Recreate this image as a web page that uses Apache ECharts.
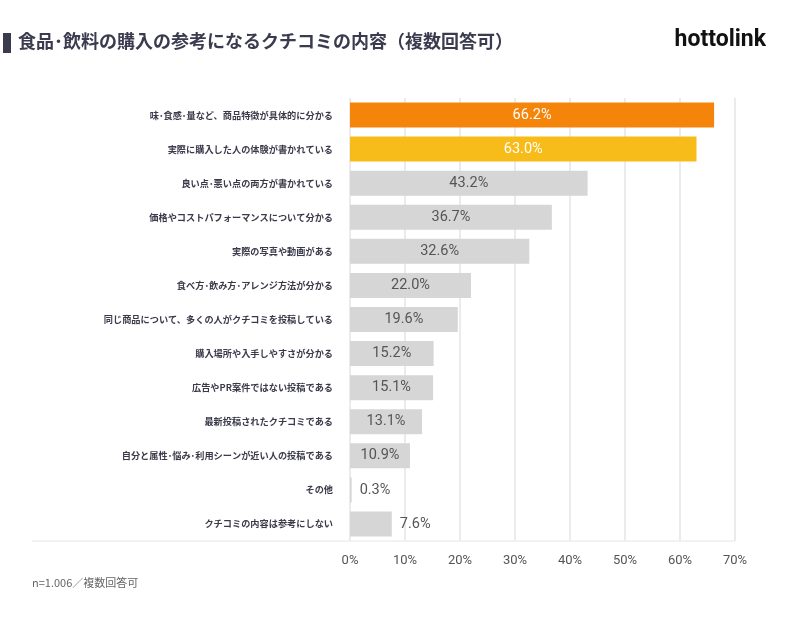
<!DOCTYPE html>
<html>
<head>
<meta charset="utf-8">
<title>食品･飲料の購入の参考になるクチコミの内容</title>
<script src="https://cdn.jsdelivr.net/npm/echarts@6/dist/echarts.min.js"></script>
<style>
  html, body { margin: 0; padding: 0; background: #fff; }
  #chart { width: 800px; height: 620px; }
</style>
</head>
<body>
<div id="chart"></div>
<script>
var categories = [
    "味･食感･量など、商品特徴が具体的に分かる",
    "実際に購入した人の体験が書かれている",
    "良い点･悪い点の両方が書かれている",
    "価格やコストパフォーマンスについて分かる",
    "実際の写真や動画がある",
    "食べ方･飲み方･アレンジ方法が分かる",
    "同じ商品について、多くの人がクチコミを投稿している",
    "購入場所や入手しやすさが分かる",
    "広告やPR案件ではない投稿である",
    "最新投稿されたクチコミである",
    "自分と属性･悩み･利用シーンが近い人の投稿である",
    "その他",
    "クチコミの内容は参考にしない"
];
var values = [66.2, 63.0, 43.2, 36.7, 32.6, 22.0, 19.6, 15.2, 15.1, 13.1, 10.9, 0.3, 7.6];
var xTicks = [0, 10, 20, 30, 40, 50, 60, 70];

var jp = '"Noto Sans CJK JP", "Noto Sans", sans-serif';
var num = 'Roboto, "DejaVu Sans", sans-serif';

var barData = values.map(function(v, i) {
    var color = "#d6d6d6";
    var labelColor = "#555555";
    if (i === 0) { color = "#f5850a"; labelColor = "#ffffff"; }
    if (i === 1) { color = "#f8bc1a"; labelColor = "#ffffff"; }
    var outside = v < 10;
    return {
        value: v,
        itemStyle: { color: color },
        label: {
            position: outside ? "right" : "inside",
            distance: outside ? 8 : 5,
            color: labelColor
        }
    };
});

var chart = echarts.init(document.getElementById("chart"));
chart.setOption({
    animation: false,
    textStyle: { fontFamily: jp },
    graphic: [
        { type: "rect", shape: { x: 3, y: 33, width: 8, height: 20 }, style: { fill: "#3b3b50" } },
        { type: "text", left: 18, top: 32, style: { text: "食品･飲料の購入の参考になるクチコミの内容（複数回答可）", font: 'bold 18px ' + jp, fill: "#3b3b50" } },
        { type: "text", right: 34, top: 29, style: { text: "hottolink", font: 'bold 23px ' + num, fill: "#111111" } },
        { type: "line", shape: { x1: 32, y1: 541, x2: 735, y2: 541 }, style: { stroke: "#e6e6e6", lineWidth: 1 } },
        { type: "text", left: 32, top: 577, style: { text: "n=1.006／複数回答可", font: '11px ' + jp, fill: "#666666" } }
    ],
    grid: { left: 350, right: 65, top: 98, bottom: 79 },
    xAxis: {
        type: "value",
        min: 0,
        max: 70,
        interval: 10,
        axisLine: { show: false },
        axisTick: { show: false },
        axisLabel: {
            margin: 13,
            color: "#555555",
            fontSize: 13,
            fontFamily: num,
            formatter: function(v) { return xTicks.indexOf(v) >= 0 ? v + "%" : ""; }
        },
        splitLine: { show: true, lineStyle: { color: "#ebebeb", width: 2 } }
    },
    yAxis: {
        type: "category",
        inverse: true,
        data: categories,
        axisLine: { show: false },
        axisTick: { show: false },
        axisLabel: {
            margin: 17,
            color: "#3a3a4a",
            fontSize: 9.2,
            fontWeight: "bold",
            fontFamily: jp
        }
    },
    series: [{
        type: "bar",
        data: barData,
        barWidth: 25,
        label: {
            show: true,
            fontSize: 14.5,
            fontFamily: num,
            formatter: function(p) { return p.value.toFixed(1) + "%"; }
        }
    }]
});
</script>
</body>
</html>
